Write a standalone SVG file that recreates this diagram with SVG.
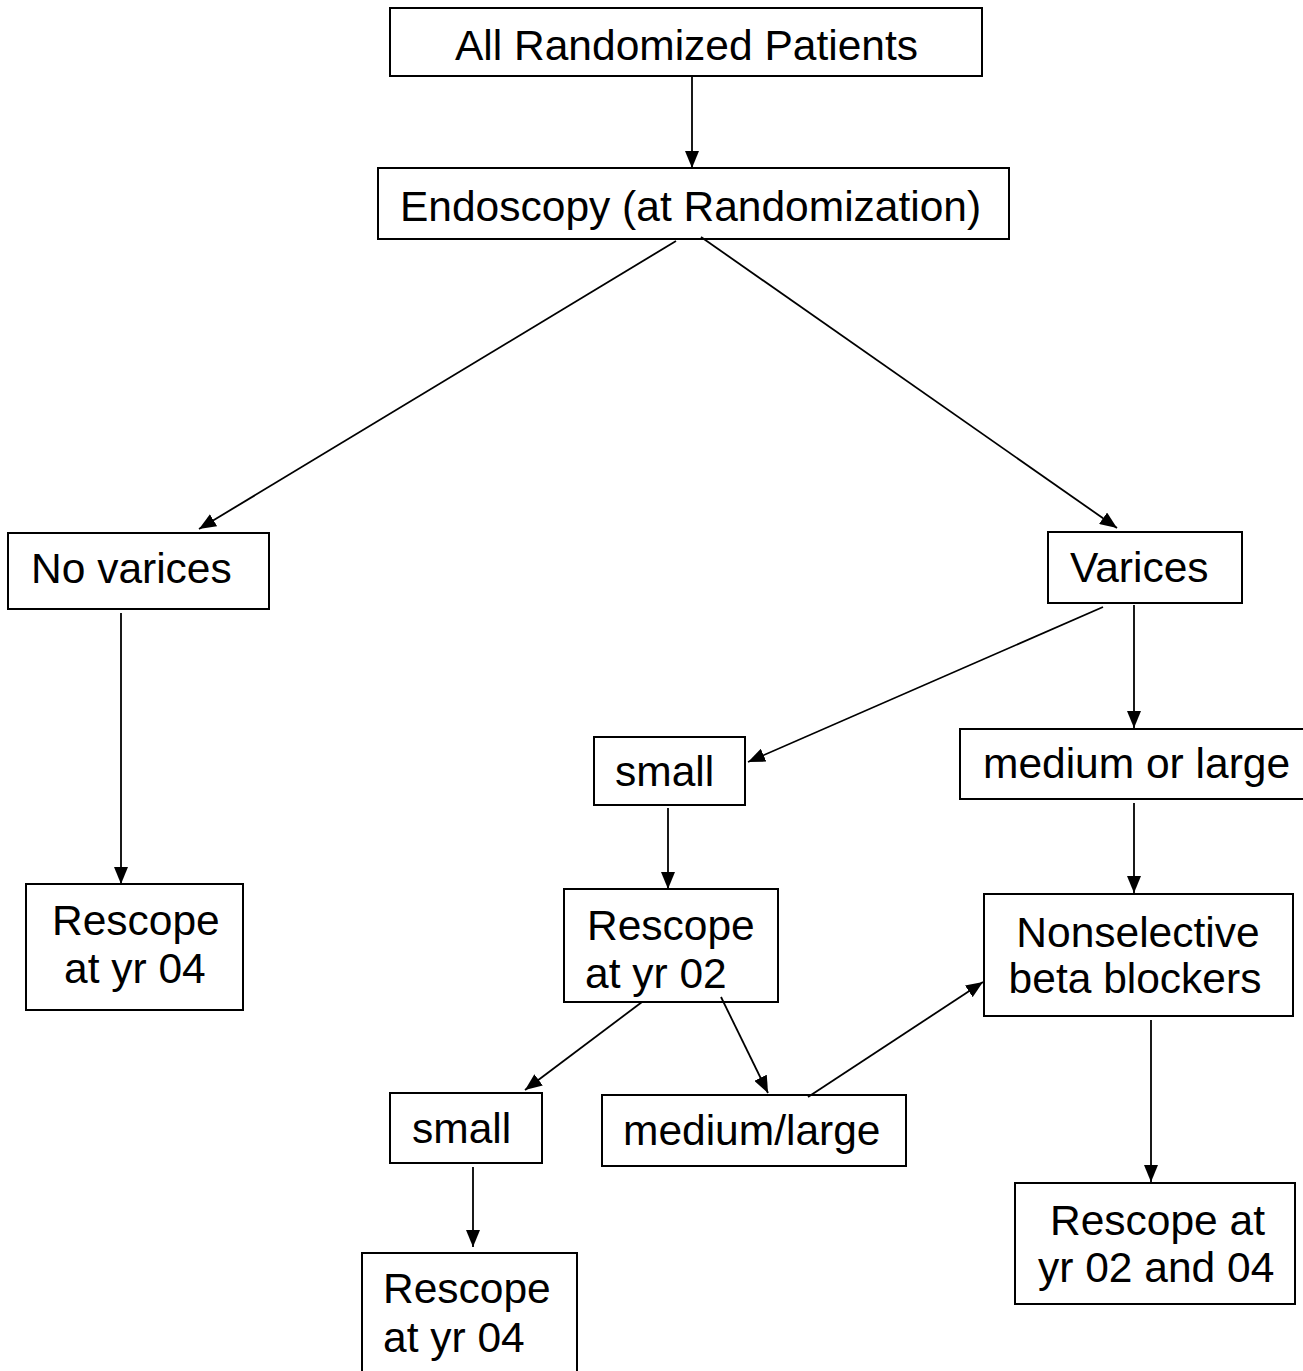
<svg xmlns="http://www.w3.org/2000/svg" width="1303" height="1371" viewBox="0 0 1303 1371">
<style>
.box{fill:#fff;stroke:#000;stroke-width:2}
.t{font-family:"Liberation Sans",Arial,sans-serif;font-size:42.5px;fill:#000}
.m{text-anchor:middle}
.c{stroke:#000;stroke-width:1.8;fill:none;marker-end:url(#ah)}
</style>
<defs>
<marker id="ah" markerUnits="userSpaceOnUse" markerWidth="18" markerHeight="14" refX="17" refY="7" orient="auto">
<path d="M0,0 L17,7 L0,14 z" fill="#000"/>
</marker>
</defs>
<rect width="1303" height="1371" fill="#fff"/>
<g id="n1"><rect class="box" x="390" y="8" width="592" height="68"/><text class="t" x="455" y="60">All Randomized Patients</text></g>
<g id="n2"><rect class="box" x="378" y="168" width="631" height="71"/><text class="t" x="400" y="221">Endoscopy (at Randomization)</text></g>
<g id="n3"><rect class="box" x="8" y="533" width="261" height="76"/><text class="t" x="31" y="583">No varices</text></g>
<g id="n4"><rect class="box" x="1048" y="532" width="194" height="71"/><text class="t" x="1070" y="582">Varices</text></g>
<g id="n5"><rect class="box" x="594" y="737" width="151" height="68"/><text class="t" x="615" y="786">small</text></g>
<g id="n6"><rect class="box" x="960" y="729" width="344" height="70"/><text class="t" x="983" y="778">medium or large</text></g>
<g id="n7"><rect class="box" x="26" y="884" width="217" height="126"/><text class="t" x="52" y="935">Rescope</text><text class="t" x="64" y="983">at yr 04</text></g>
<g id="n8"><rect class="box" x="564" y="889" width="214" height="113"/><text class="t" x="587" y="940">Rescope</text><text class="t" x="585" y="988">at yr 02</text></g>
<g id="n9"><rect class="box" x="984" y="894" width="309" height="122"/><text class="t m" x="1138" y="947">Nonselective</text><text class="t m" x="1135" y="993">beta blockers</text></g>
<g id="n10"><rect class="box" x="390" y="1093" width="152" height="70"/><text class="t" x="412" y="1143">small</text></g>
<g id="n11"><rect class="box" x="602" y="1095" width="304" height="71"/><text class="t" x="623" y="1145">medium/large</text></g>
<g id="n12"><rect class="box" x="362" y="1253" width="215" height="130"/><text class="t" x="383" y="1303">Rescope</text><text class="t" x="383" y="1352">at yr 04</text></g>
<g id="n13"><rect class="box" x="1015" y="1183" width="280" height="121"/><text class="t" x="1050" y="1235">Rescope at</text><text class="t" x="1038" y="1282">yr 02 and 04</text></g>
<g id="connectors">
<line class="c" x1="692" y1="76" x2="692" y2="168"/>
<line class="c" x1="676" y1="241" x2="199" y2="529"/>
<line class="c" x1="701" y1="237" x2="1117" y2="528"/>
<line class="c" x1="121" y1="613" x2="121" y2="884"/>
<line class="c" x1="1103" y1="607" x2="748" y2="762"/>
<line class="c" x1="1134" y1="605" x2="1134" y2="728"/>
<line class="c" x1="668" y1="808" x2="668" y2="889"/>
<line class="c" x1="1134" y1="803" x2="1134" y2="893"/>
<line class="c" x1="642" y1="1002" x2="525" y2="1090"/>
<line class="c" x1="721" y1="997" x2="768" y2="1093"/>
<line class="c" x1="808" y1="1097" x2="983" y2="982"/>
<line class="c" x1="473" y1="1167" x2="473" y2="1247"/>
<line class="c" x1="1151" y1="1020" x2="1151" y2="1182"/>
</g>
</svg>
